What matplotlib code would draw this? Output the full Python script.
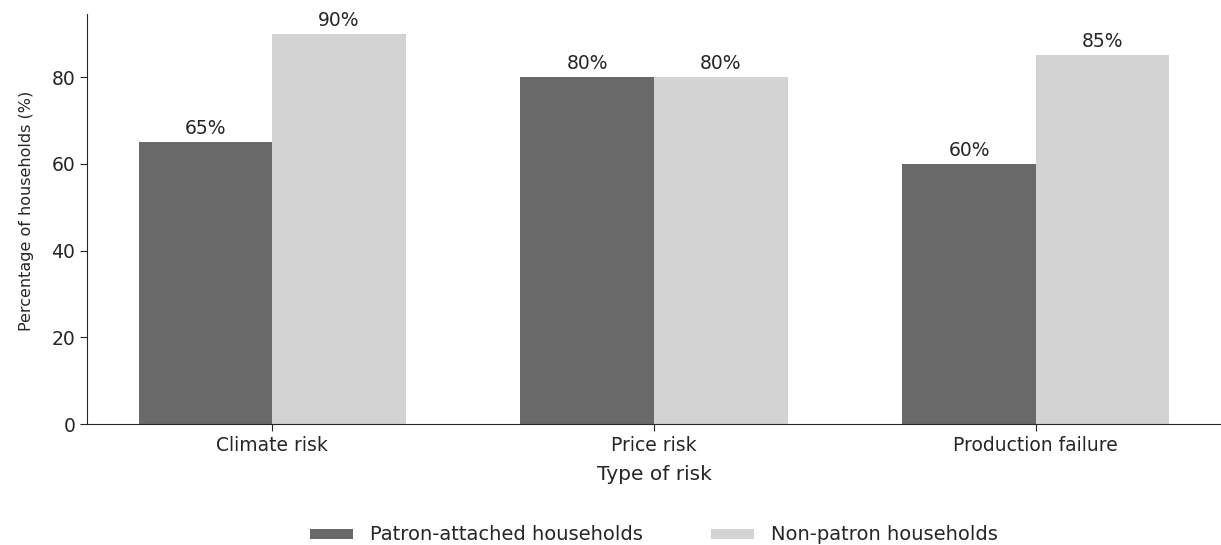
import matplotlib
matplotlib.use("Agg")
import matplotlib.pyplot as plt
import numpy as np

# Share of households exposed to each type of risk
risk_types = ["Climate risk", "Price risk", "Production failure"]
patron_attached = [65, 80, 60]
non_patron = [90, 80, 85]
series_names = ["Patron-attached households", "Non-patron households"]
colors = ["#696969", "#d3d3d3"]

text_color = "#262626"
plt.rcParams["font.family"] = "DejaVu Sans"
plt.rcParams["text.color"] = text_color
plt.rcParams["axes.labelcolor"] = text_color
plt.rcParams["xtick.color"] = text_color
plt.rcParams["ytick.color"] = text_color
plt.rcParams["axes.edgecolor"] = text_color

fig = plt.figure(figsize=(12.21, 5.45), dpi=100)
ax = fig.add_axes([0.0713, 0.222, 0.9287, 0.752])

x = np.arange(len(risk_types))
width = 0.35
bars1 = ax.bar(x - width / 2, patron_attached, width, color=colors[0], label=series_names[0])
bars2 = ax.bar(x + width / 2, non_patron, width, color=colors[1], label=series_names[1])

for bars in (bars1, bars2):
    for b in bars:
        ax.annotate(f"{b.get_height():.0f}%",
                    (b.get_x() + b.get_width() / 2, b.get_height()),
                    xytext=(0, 3), textcoords="offset points",
                    ha="center", va="bottom", fontsize=13.5)

ax.set_xticks(x)
ax.set_xticklabels(risk_types, fontsize=13.5)
ax.tick_params(axis="y", labelsize=13.5, length=5)
ax.tick_params(axis="x", length=5)
ax.set_yticks([0, 20, 40, 60, 80])
ax.set_ylim(0, 94.5)
ax.set_xlabel("Type of risk", fontsize=14.5, labelpad=7)
ax.set_ylabel("Percentage of households (%)", fontsize=11.5)
ax.yaxis.set_label_coords(-0.047, 0.52)

for side in ("top", "right"):
    ax.spines[side].set_visible(False)

fig.legend(handles=[bars1, bars2], labels=series_names,
           loc="center", bbox_to_anchor=(654 / 1221, 1 - 535 / 545), ncol=2,
           frameon=False, fontsize=14, columnspacing=3.5, handlelength=2.2,
           handleheight=0.42, handletextpad=0.9)

fig.savefig("out.png", dpi=100)
